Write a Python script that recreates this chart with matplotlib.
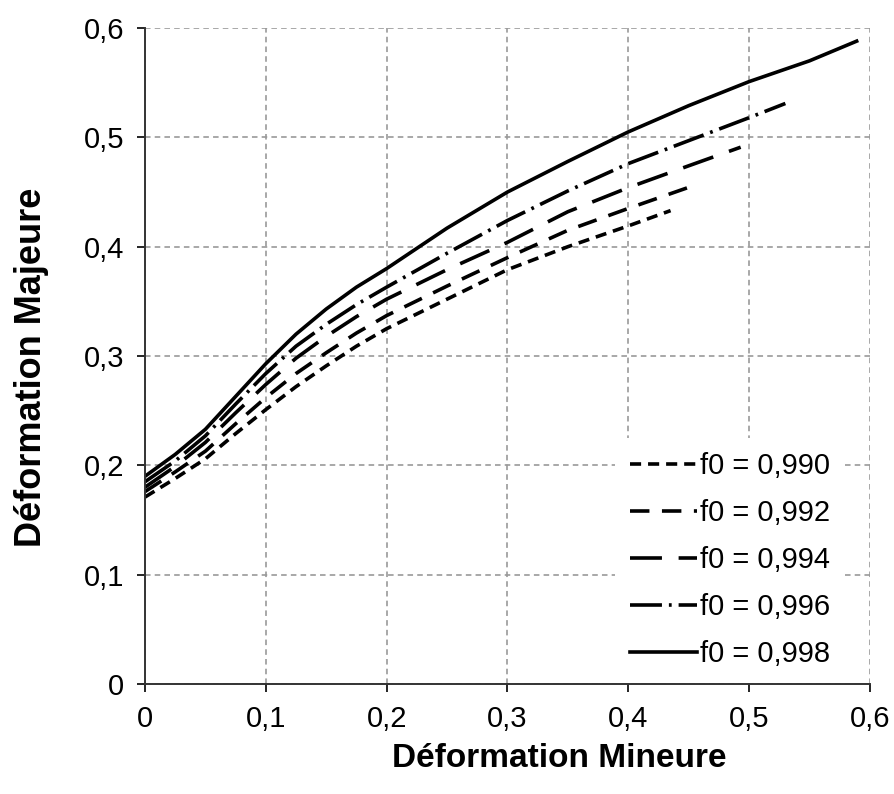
import matplotlib
matplotlib.use("Agg")
from matplotlib import pyplot as plt
from matplotlib.ticker import FuncFormatter

plt.rcParams['font.family'] = ['Liberation Sans', 'DejaVu Sans']
plt.rcParams['lines.scale_dashes'] = False

# mineure (x) et majeure (y)
x_990 = [0, 0.025, 0.05, 0.075, 0.1, 0.125, 0.15, 0.175, 0.2, 0.25, 0.3, 0.35, 0.4, 0.435]
y_990 = [0.171, 0.188, 0.206, 0.229, 0.251, 0.272, 0.291, 0.309, 0.325, 0.352, 0.379, 0.400, 0.419, 0.433]

x_992 = [0, 0.025, 0.05, 0.075, 0.1, 0.125, 0.15, 0.175, 0.2, 0.25, 0.3, 0.35, 0.4, 0.457]
y_992 = [0.176, 0.194, 0.213, 0.238, 0.262, 0.284, 0.303, 0.321, 0.337, 0.364, 0.390, 0.415, 0.435, 0.457]

x_994 = [0, 0.025, 0.05, 0.075, 0.1, 0.125, 0.15, 0.175, 0.2, 0.25, 0.3, 0.35, 0.4, 0.45, 0.493]
y_994 = [0.180, 0.199, 0.221, 0.248, 0.274, 0.298, 0.318, 0.336, 0.352, 0.379, 0.404, 0.432, 0.454, 0.474, 0.491]

x_996 = [0, 0.025, 0.05, 0.075, 0.1, 0.125, 0.15, 0.175, 0.2, 0.25, 0.3, 0.35, 0.4, 0.45, 0.5, 0.53]
y_996 = [0.185, 0.204, 0.227, 0.256, 0.284, 0.309, 0.329, 0.347, 0.363, 0.394, 0.424, 0.451, 0.476, 0.497, 0.518, 0.531]

x_998 = [0, 0.025, 0.05, 0.075, 0.1, 0.125, 0.15, 0.175, 0.2, 0.25, 0.3, 0.35, 0.4, 0.45, 0.5, 0.55, 0.589]
y_998 = [0.190, 0.210, 0.233, 0.263, 0.293, 0.320, 0.343, 0.363, 0.380, 0.417, 0.450, 0.478, 0.505, 0.529, 0.551, 0.570, 0.588]

labels = ['f0 = 0,990', 'f0 = 0,992', 'f0 = 0,994', 'f0 = 0,996', 'f0 = 0,998']
ticks = [0, 0.1, 0.2, 0.3, 0.4, 0.5, 0.6]

fig = plt.figure(figsize=(8.95, 7.94), dpi=100)
ax = fig.add_axes([0.162, 0.1385, 0.81, 0.8262])

lw = 2.6
ax.plot(x_990, y_990, color='black', lw=lw, dashes=(8, 5), label=labels[0])
ax.plot(x_992, y_992, color='black', lw=lw, dashes=(14, 9), label=labels[1])
ax.plot(x_994, y_994, color='black', lw=lw, dashes=(23, 12), label=labels[2])
ax.plot(x_996, y_996, color='black', lw=lw, dashes=(23, 5, 2, 5), label=labels[3])
ax.plot(x_998, y_998, color='black', lw=lw, label=labels[4])

ax.set_xlim(0, 0.6)
ax.set_ylim(0, 0.6)
ax.set_xticks(ticks)
ax.set_yticks(ticks)
fmt = FuncFormatter(lambda v, p: '0' if v == 0 else ('%.1f' % v).replace('.', ','))
ax.xaxis.set_major_formatter(fmt)
ax.yaxis.set_major_formatter(fmt)
ax.tick_params(labelsize=21, direction='out', length=6, width=1.2, pad=9)

ax.grid(True, color='#999999', linestyle=(0, (4, 3)), linewidth=1.2)
ax.set_axisbelow(True)
for s in ['top', 'right']:
    ax.spines[s].set_visible(False)
for s in ['left', 'bottom']:
    ax.spines[s].set_linewidth(1.4)
    ax.spines[s].set_color('#333333')

ax.set_xlabel('Déformation Mineure', fontsize=24, fontweight='bold', labelpad=8)
ax.xaxis.set_label_coords(0.572, -0.09)
ax.set_ylabel('Déformation Majeure', fontsize=26, fontweight='bold', labelpad=12)
ax.yaxis.set_label_coords(-0.133, 0.483)

leg = ax.legend(loc='lower right', bbox_to_anchor=(0.985, -0.02), fontsize=21, frameon=True,
                handlelength=2.3, handletextpad=0.1, labelspacing=0.65, borderpad=0.5)
leg.get_frame().set_facecolor('white')
leg.get_frame().set_edgecolor('none')
leg.get_frame().set_alpha(1)

fig.savefig('out.png', dpi=100)
